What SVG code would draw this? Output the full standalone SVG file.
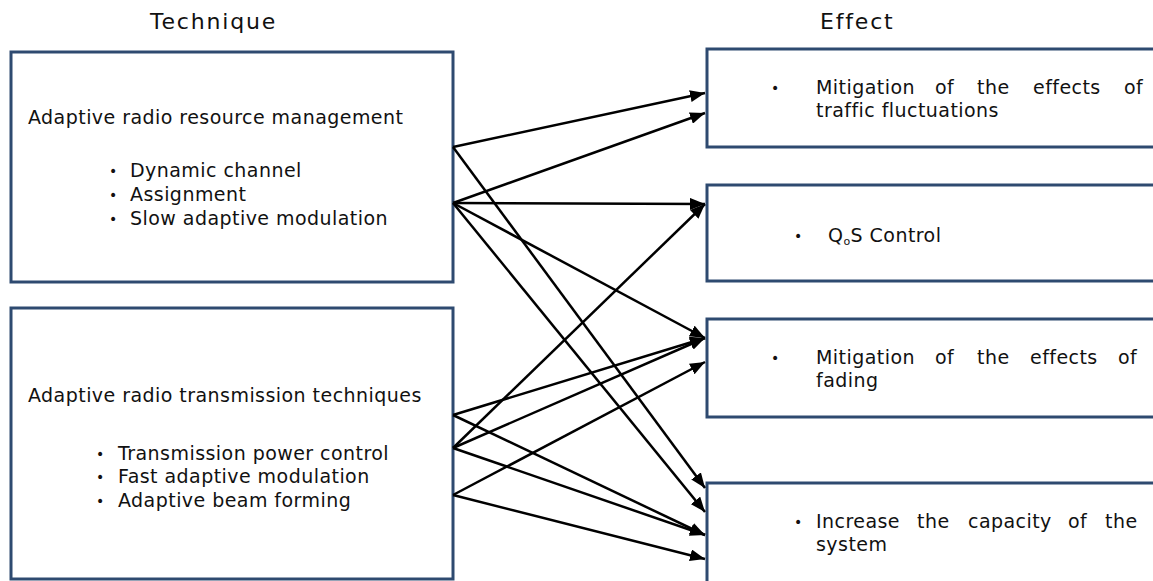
<svg xmlns="http://www.w3.org/2000/svg" width="1153" height="581" viewBox="0 0 1153 581">
<style>
  .box { fill: #ffffff; stroke: #2e4a70; stroke-width: 3; }
  .t { font-family: "DejaVu Sans", Verdana, sans-serif; font-size: 19px; letter-spacing: 0.45px; fill: #111111; }
  .b { font-family: "DejaVu Sans", Verdana, sans-serif; font-size: 14px; fill: #111111; }
  .h { font-family: "DejaVu Sans", Verdana, sans-serif; font-size: 22px; letter-spacing: 1.8px; fill: #111111; }
  .c { stroke: #000000; stroke-width: 2.5; fill: none; marker-end: url(#ah); }
</style>
<defs>
  <marker id="ah" markerUnits="userSpaceOnUse" markerWidth="15" markerHeight="12" refX="15" refY="6" orient="auto">
    <path d="M0,0 L15,6 L0,12 z" fill="#000000"/>
  </marker>
</defs>
<rect width="1153" height="581" fill="#ffffff"/>
<text class="h" x="150" y="29">Technique</text>
<text class="h" x="820" y="29">Effect</text>

<g id="tech1">
  <rect class="box" x="11" y="52" width="442" height="230"/>
  <text class="t" x="28" y="124">Adaptive radio resource management</text>
  <text class="b" x="109" y="176">•</text><text class="t" x="130" y="177">Dynamic channel</text>
  <text class="b" x="109" y="200">•</text><text class="t" x="130" y="201">Assignment</text>
  <text class="b" x="109" y="224">•</text><text class="t" x="130" y="225">Slow adaptive modulation</text>
</g>
<g id="tech2">
  <rect class="box" x="11" y="308" width="442" height="271"/>
  <text class="t" x="28" y="402">Adaptive radio transmission techniques</text>
  <text class="b" x="96" y="459">•</text><text class="t" x="118" y="460">Transmission power control</text>
  <text class="b" x="96" y="482">•</text><text class="t" x="118" y="483">Fast adaptive modulation</text>
  <text class="b" x="96" y="506">•</text><text class="t" x="118" y="507">Adaptive beam forming</text>
</g>

<g id="eff1">
  <rect class="box" x="707" y="49" width="460" height="98"/>
  <text class="b" x="771" y="93">•</text>
  <text class="t" x="816" y="94">Mitigation</text><text class="t" x="935" y="94">of</text><text class="t" x="977" y="94">the</text><text class="t" x="1033" y="94">effects</text><text class="t" x="1124" y="94">of</text>
  <text class="t" x="816" y="117">traffic fluctuations</text>
</g>
<g id="eff2">
  <rect class="box" x="707" y="185" width="460" height="96"/>
  <text class="b" x="794" y="241">•</text>
  <text class="t" x="828" y="242">Q<tspan font-size="11" dy="3">o</tspan><tspan dy="-3">S Control</tspan></text>
</g>
<g id="eff3">
  <rect class="box" x="707" y="319" width="460" height="98"/>
  <text class="b" x="771" y="363">•</text>
  <text class="t" x="816" y="364">Mitigation</text><text class="t" x="935" y="364">of</text><text class="t" x="977" y="364">the</text><text class="t" x="1030" y="364">effects</text><text class="t" x="1118" y="364">of</text>
  <text class="t" x="816" y="387">fading</text>
</g>
<g id="eff4">
  <rect class="box" x="707" y="483" width="460" height="110"/>
  <text class="b" x="794" y="527">•</text>
  <text class="t" x="816" y="528">Increase</text><text class="t" x="917" y="528">the</text><text class="t" x="968" y="528">capacity</text><text class="t" x="1068" y="528">of</text><text class="t" x="1105" y="528">the</text>
  <text class="t" x="816" y="551">system</text>
</g>

<g id="connectors">
  <line class="c" x1="453" y1="147" x2="705" y2="93"/>
  <line class="c" x1="453" y1="203" x2="705" y2="113"/>
  <line class="c" x1="453" y1="203" x2="705" y2="204"/>
  <line class="c" x1="453" y1="203" x2="705" y2="338"/>
  <line class="c" x1="453" y1="147" x2="705" y2="488"/>
  <line class="c" x1="453" y1="203" x2="705" y2="512"/>
  <line class="c" x1="453" y1="415" x2="705" y2="338"/>
  <line class="c" x1="453" y1="448" x2="705" y2="204"/>
  <line class="c" x1="453" y1="448" x2="705" y2="338"/>
  <line class="c" x1="453" y1="495" x2="705" y2="362"/>
  <line class="c" x1="453" y1="415" x2="705" y2="535"/>
  <line class="c" x1="453" y1="448" x2="705" y2="535"/>
  <line class="c" x1="453" y1="495" x2="705" y2="559"/>
</g>
</svg>
